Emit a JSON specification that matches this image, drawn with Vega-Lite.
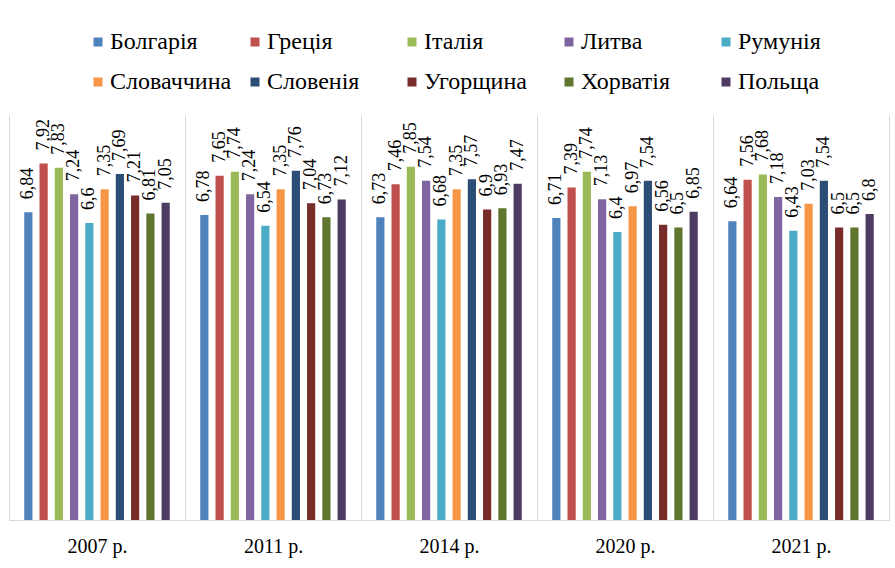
{
  "$schema": "https://vega.github.io/schema/vega-lite/v6.json",
  "width": 880,
  "height": 405,
  "autosize": {"type": "none"},
  "padding": {"left": 9, "top": 115, "right": 6, "bottom": 48},
  "background": "#ffffff",
  "config": {
    "view": {"stroke": null},
    "font": "Liberation Serif, serif"
  },
  "data": {
    "values": [
      {"year": "2007 р.", "country": "Болгарія", "value": 6.84, "label": "6,84"},
      {"year": "2007 р.", "country": "Греція", "value": 7.92, "label": "7,92"},
      {"year": "2007 р.", "country": "Італія", "value": 7.83, "label": "7,83"},
      {"year": "2007 р.", "country": "Литва", "value": 7.24, "label": "7,24"},
      {"year": "2007 р.", "country": "Румунія", "value": 6.6, "label": "6,6"},
      {"year": "2007 р.", "country": "Словаччина", "value": 7.35, "label": "7,35"},
      {"year": "2007 р.", "country": "Словенія", "value": 7.69, "label": "7,69"},
      {"year": "2007 р.", "country": "Угорщина", "value": 7.21, "label": "7,21"},
      {"year": "2007 р.", "country": "Хорватія", "value": 6.81, "label": "6,81"},
      {"year": "2007 р.", "country": "Польща", "value": 7.05, "label": "7,05"},
      {"year": "2011 р.", "country": "Болгарія", "value": 6.78, "label": "6,78"},
      {"year": "2011 р.", "country": "Греція", "value": 7.65, "label": "7,65"},
      {"year": "2011 р.", "country": "Італія", "value": 7.74, "label": "7,74"},
      {"year": "2011 р.", "country": "Литва", "value": 7.24, "label": "7,24"},
      {"year": "2011 р.", "country": "Румунія", "value": 6.54, "label": "6,54"},
      {"year": "2011 р.", "country": "Словаччина", "value": 7.35, "label": "7,35"},
      {"year": "2011 р.", "country": "Словенія", "value": 7.76, "label": "7,76"},
      {"year": "2011 р.", "country": "Угорщина", "value": 7.04, "label": "7,04"},
      {"year": "2011 р.", "country": "Хорватія", "value": 6.73, "label": "6,73"},
      {"year": "2011 р.", "country": "Польща", "value": 7.12, "label": "7,12"},
      {"year": "2014 р.", "country": "Болгарія", "value": 6.73, "label": "6,73"},
      {"year": "2014 р.", "country": "Греція", "value": 7.46, "label": "7,46"},
      {"year": "2014 р.", "country": "Італія", "value": 7.85, "label": "7,85"},
      {"year": "2014 р.", "country": "Литва", "value": 7.54, "label": "7,54"},
      {"year": "2014 р.", "country": "Румунія", "value": 6.68, "label": "6,68"},
      {"year": "2014 р.", "country": "Словаччина", "value": 7.35, "label": "7,35"},
      {"year": "2014 р.", "country": "Словенія", "value": 7.57, "label": "7,57"},
      {"year": "2014 р.", "country": "Угорщина", "value": 6.9, "label": "6,9"},
      {"year": "2014 р.", "country": "Хорватія", "value": 6.93, "label": "6,93"},
      {"year": "2014 р.", "country": "Польща", "value": 7.47, "label": "7,47"},
      {"year": "2020 р.", "country": "Болгарія", "value": 6.71, "label": "6,71"},
      {"year": "2020 р.", "country": "Греція", "value": 7.39, "label": "7,39"},
      {"year": "2020 р.", "country": "Італія", "value": 7.74, "label": "7,74"},
      {"year": "2020 р.", "country": "Литва", "value": 7.13, "label": "7,13"},
      {"year": "2020 р.", "country": "Румунія", "value": 6.4, "label": "6,4"},
      {"year": "2020 р.", "country": "Словаччина", "value": 6.97, "label": "6,97"},
      {"year": "2020 р.", "country": "Словенія", "value": 7.54, "label": "7,54"},
      {"year": "2020 р.", "country": "Угорщина", "value": 6.56, "label": "6,56"},
      {"year": "2020 р.", "country": "Хорватія", "value": 6.5, "label": "6,5"},
      {"year": "2020 р.", "country": "Польща", "value": 6.85, "label": "6,85"},
      {"year": "2021 р.", "country": "Болгарія", "value": 6.64, "label": "6,64"},
      {"year": "2021 р.", "country": "Греція", "value": 7.56, "label": "7,56"},
      {"year": "2021 р.", "country": "Італія", "value": 7.68, "label": "7,68"},
      {"year": "2021 р.", "country": "Литва", "value": 7.18, "label": "7,18"},
      {"year": "2021 р.", "country": "Румунія", "value": 6.43, "label": "6,43"},
      {"year": "2021 р.", "country": "Словаччина", "value": 7.03, "label": "7,03"},
      {"year": "2021 р.", "country": "Словенія", "value": 7.54, "label": "7,54"},
      {"year": "2021 р.", "country": "Угорщина", "value": 6.5, "label": "6,5"},
      {"year": "2021 р.", "country": "Хорватія", "value": 6.5, "label": "6,5"},
      {"year": "2021 р.", "country": "Польща", "value": 6.8, "label": "6,8"}
    ]
  },
  "encoding": {
    "x": {
      "field": "year",
      "type": "nominal",
      "sort": null,
      "scale": {"paddingInner": 0, "paddingOuter": 0},
      "axis": {
        "title": null,
        "labelAngle": 0,
        "ticks": false,
        "grid": true,
        "tickBand": "extent",
        "gridColor": "#D9D9D9",
        "domainColor": "#D9D9D9",
        "labelFont": "Liberation Serif, serif",
        "labelFontSize": 20,
        "labelColor": "#000000",
        "labelPadding": 16
      }
    },
    "xOffset": {
      "field": "country",
      "type": "nominal",
      "sort": ["Болгарія", "Греція", "Італія", "Литва", "Румунія", "Словаччина", "Словенія", "Угорщина", "Хорватія", "Польща"],
      "scale": {"paddingInner": 0.463, "paddingOuter": 1.14}
    }
  },
  "layer": [
    {
      "mark": {"type": "bar"},
      "encoding": {
        "y": {
          "field": "value",
          "type": "quantitative",
          "scale": {"domain": [0, 9], "nice": false},
          "axis": {"orient": "left", "title": null, "labels": false, "ticks": false, "grid": false, "domainColor": "#D9D9D9"}
        },
        "color": {
          "field": "country",
          "type": "nominal",
          "scale": {
            "domain": ["Болгарія", "Греція", "Італія", "Литва", "Румунія", "Словаччина", "Словенія", "Угорщина", "Хорватія", "Польща"],
            "range": ["#4F81BD", "#C0504D", "#9BBB59", "#8064A2", "#4BACC6", "#F79646", "#2C4D75", "#772C2A", "#5F7530", "#4D3B62"]
          },
          "legend": {
            "orient": "none",
            "legendX": 77,
            "legendY": -85,
            "direction": "horizontal",
            "columns": 5,
            "gridAlign": "all",
            "title": null,
            "padding": 0,
            "symbolType": "square",
            "symbolSize": 81,
            "symbolStrokeWidth": 0,
            "labelFont": "Liberation Serif, serif",
            "labelFontSize": 24,
            "labelColor": "#000000",
            "labelOffset": 0,
            "labelLimit": 300,
            "columnPadding": 11,
            "rowPadding": 16
          }
        }
      }
    },
    {
      "mark": {"type": "text", "angle": 270, "align": "left", "baseline": "middle", "dx": 13, "font": "Liberation Serif, serif", "fontSize": 18, "color": "#000000"},
      "encoding": {
        "y": {
          "field": "value",
          "type": "quantitative",
          "scale": {"domain": [0, 9], "nice": false},
          "axis": {"orient": "right", "title": null, "labels": false, "ticks": false, "grid": false, "domainColor": "#D9D9D9"}
        },
        "text": {"field": "label"}
      }
    }
  ],
  "resolve": {"scale": {"y": "independent"}}
}
